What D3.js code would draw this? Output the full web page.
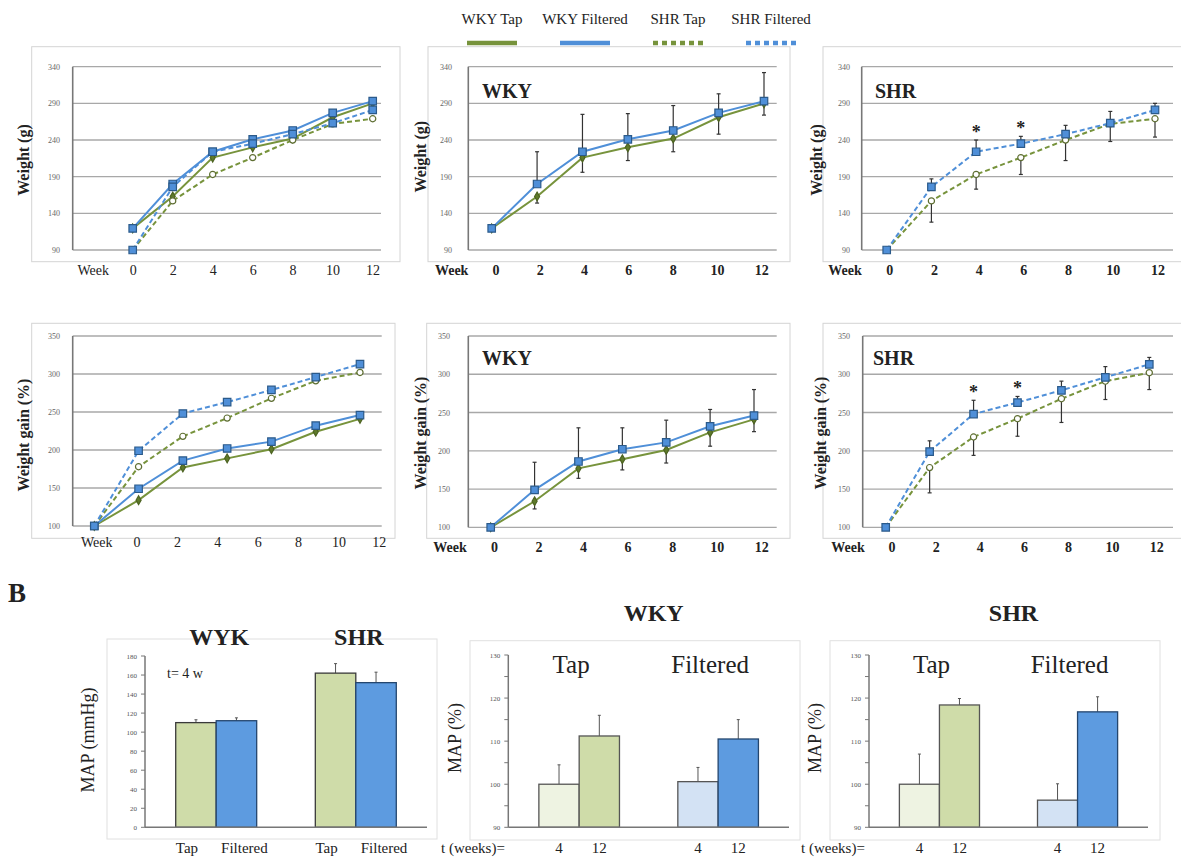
<!DOCTYPE html>
<html>
<head>
<meta charset="utf-8">
<script src="https://cdn.jsdelivr.net/npm/d3@7"></script>
<style>
  body { margin: 0; background: #fff; }
  svg { display: block; }
  text { font-family: "Liberation Serif", "Times New Roman", serif; fill: #222; }
</style>
</head>
<body>
<script>
// ---- data ----
const weeks = [0, 2, 4, 6, 8, 10, 12];
const weekCats = ["Week", "0", "2", "4", "6", "8", "10", "12"];
const weightTicks = [90, 140, 190, 240, 290, 340];
const gainTicks = [100, 150, 200, 250, 300, 350];
const legendNames = ["WKY Tap", "WKY Filtered", "SHR Tap", "SHR Filtered"];

// body weight (g)
const wkyTapWeight = [119.5, 163, 216, 230, 242, 271, 290];
const wkyFiltWeight = [119.5, 180, 224, 241, 253, 277, 293];
const shrTapWeight = [90, 157, 193, 216, 240, 262, 269];
const shrFiltWeight = [90, 176, 224, 235, 248, 263, 281];
const wkyTapWeightErr = [0, 9, 20, 18, 18, 23, 16];
const wkyFiltWeightErr = [0, 44, 51, 35, 34, 26, 39];
const shrTapWeightErr = [0, 29, 20, 23, 28, 24, 25];
const shrFiltWeightErr = [0, 11, 16, 10, 12, 16, 9];

// weight gain (%)
const wkyTapGain = [100, 134, 177, 189, 201, 224, 241];
const wkyFiltGain = [100, 149, 186, 202, 211, 232, 246];
const shrTapGain = [100, 178, 218, 242, 268, 291, 302];
const shrFiltGain = [100, 199, 248, 263, 279, 296, 313];
const wkyTapGainErr = [0, 10, 13, 14, 17, 18, 16];
const wkyFiltGainErr = [0, 36, 44, 28, 29, 22, 34];
const shrTapGainErr = [0, 33, 24, 23, 31, 24, 22];
const shrFiltGainErr = [0, 14, 18, 8, 12, 14, 9];

const starWeeks = [4, 6];

// MAP (mmHg) at 4 weeks
const mapGroups = ["WYK", "SHR"];
const mapTreatments = ["Tap", "Filtered"];
const mapTap = [110, 162];
const mapFilt = [112, 152];
const mapTapErr = [3, 10];
const mapFiltErr = [3, 11];
const mapTicks = [0, 20, 40, 60, 80, 100, 120, 140, 160, 180];

// MAP (%) at 4 and 12 weeks
const pctWeeks = ["4", "12"];
const pctTicks = [90, 100, 110, 120, 130];
const wkyPctTap = [100, 111.2];
const wkyPctFilt = [100.6, 110.5];
const wkyPctTapErr = [4.5, 4.8];
const wkyPctFiltErr = [3.3, 4.5];
const shrPctTap = [100, 118.4];
const shrPctFilt = [96.3, 116.8];
const shrPctTapErr = [7, 1.5];
const shrPctFiltErr = [3.8, 3.5];

// ---- styles ----
const GREEN = "#77933c";
const BLUE = "#4f8fd8";
const wkyTapStyle = {color: GREEN, dash: null, symbol: d3.symbolDiamond, size: 22, fill: "#5e7a2a", stroke: "#4d6322", dir: -1};
const wkyFiltStyle = {color: BLUE, dash: null, symbol: d3.symbolSquare, size: 56, fill: BLUE, stroke: "#2b5a8a", dir: 1};
const shrTapStyle = {color: GREEN, dash: "5,3", symbol: d3.symbolCircle, size: 30, fill: "#fff", stroke: "#5e6e32", dir: -1};
const shrFiltStyle = {color: BLUE, dash: "5,3", symbol: d3.symbolSquare, size: 56, fill: BLUE, stroke: "#2b5a8a", dir: 1};

const svg = d3.select("body").append("svg").attr("width", 1181).attr("height", 861);

// ---- legend ----
const legendStyles = [wkyTapStyle, wkyFiltStyle, shrTapStyle, shrFiltStyle];
const lx = d3.scalePoint().domain(legendNames).range([492, 771]);
legendNames.forEach((n, i) => {
    svg.append("text").attr("x", lx(n)).attr("y", 24).attr("text-anchor", "middle")
        .attr("font-size", 15).text(n);
    svg.append("line").attr("x1", lx(n) - 25).attr("x2", lx(n) + 25)
        .attr("y1", 43).attr("y2", 43)
        .attr("stroke", legendStyles[i].color).attr("stroke-width", 4.5)
        .attr("stroke-dasharray", legendStyles[i].dash ? "5,4" : null);
});

// ---- line panels ----
function linePanel(cfg) {
    const g = svg.append("g");
    const y = d3.scaleLinear().domain(d3.extent(cfg.ticks)).range(cfg.yRange);
    const x = d3.scaleLinear().domain([0, 12]).range(cfg.pts);
    const xl = d3.scalePoint().domain(weekCats).range(cfg.labs);

    g.append("rect").attr("x", cfg.box[0]).attr("y", cfg.box[1])
        .attr("width", cfg.box[2]).attr("height", cfg.box[3])
        .attr("fill", "none").attr("stroke", "#d4d4d4");

    g.selectAll(".grid").data(cfg.ticks).join("line")
        .attr("x1", cfg.axisX).attr("x2", cfg.right)
        .attr("y1", d => y(d)).attr("y2", d => y(d))
        .attr("stroke", "#a8a8a8").attr("stroke-width", 1.3);

    g.append("line").attr("x1", cfg.axisX).attr("x2", cfg.axisX)
        .attr("y1", y(cfg.ticks[0])).attr("y2", y(cfg.ticks[cfg.ticks.length - 1]))
        .attr("stroke", "#777").attr("stroke-width", 1.6);

    g.selectAll(".tick").data(cfg.ticks).join("text")
        .attr("x", cfg.tickX).attr("y", d => y(d) + 3)
        .attr("text-anchor", "end").attr("font-size", 8).style("fill", "#666")
        .text(d => d);

    g.selectAll(".xl").data(weekCats).join("text")
        .attr("x", d => xl(d)).attr("y", cfg.labY)
        .attr("text-anchor", "middle").attr("font-size", 14)
        .attr("font-weight", cfg.labBold ? "bold" : "normal")
        .text(d => d);

    const line = d3.line().x((d, i) => x(weeks[i])).y(d => y(d));
    cfg.series.forEach(s => {
        g.append("path").datum(s.vals).attr("d", line)
            .attr("fill", "none").attr("stroke", s.style.color).attr("stroke-width", 2)
            .attr("stroke-dasharray", s.style.dash);
    });

    cfg.series.filter(s => s.err).forEach(s => {
        const dir = s.style.dir;
        weeks.forEach((w, i) => {
            if (!s.err[i]) return;
            const y0 = y(s.vals[i]), y1 = y(s.vals[i] + dir * s.err[i]);
            g.append("line").attr("x1", x(w)).attr("x2", x(w)).attr("y1", y0).attr("y2", y1)
                .attr("stroke", "#333").attr("stroke-width", 1.2);
            g.append("line").attr("x1", x(w) - 2).attr("x2", x(w) + 2).attr("y1", y1).attr("y2", y1)
                .attr("stroke", "#333").attr("stroke-width", 1.2);
        });
    });

    cfg.series.forEach(s => {
        const sym = d3.symbol().type(s.style.symbol).size(s.style.size);
        g.selectAll(null).data(s.vals).join("path")
            .attr("transform", (d, i) => `translate(${x(weeks[i])},${y(d)})`)
            .attr("d", sym).attr("fill", s.style.fill)
            .attr("stroke", s.style.stroke).attr("stroke-width", 1.2);
    });

    if (cfg.stars) {
        const s = cfg.stars;
        starWeeks.forEach(w => {
            const i = weeks.indexOf(w);
            g.append("text").attr("x", x(w)).attr("y", y(s.vals[i] + s.err[i]) - 2)
                .attr("text-anchor", "middle").attr("font-size", 18).attr("font-weight", "bold")
                .text("*");
        });
    }

    if (cfg.title) {
        g.append("text").attr("x", cfg.title[1]).attr("y", cfg.title[2])
            .attr("font-size", 20).attr("font-weight", "bold").text(cfg.title[0]);
    }

    g.append("text")
        .attr("transform", `translate(${cfg.yLabel[1]},${cfg.yLabel[2]}) rotate(-90)`)
        .attr("text-anchor", "middle").attr("dominant-baseline", "central")
        .attr("font-size", 16).attr("font-weight", "bold").text(cfg.yLabel[0]);
}

linePanel({
    box: [31.7, 46.7, 368.3, 215], axisX: 72.7, right: 381,
    yRange: [250, 66.7], ticks: weightTicks, tickX: 60,
    pts: [132.7, 372.7], labs: [93.3, 373], labY: 275, labBold: false,
    yLabel: ["Weight (g)", 23.3, 160],
    series: [
        {vals: wkyTapWeight, style: wkyTapStyle},
        {vals: wkyFiltWeight, style: wkyFiltStyle},
        {vals: shrTapWeight, style: shrTapStyle},
        {vals: shrFiltWeight, style: shrFiltStyle}
    ]
});

linePanel({
    box: [428, 46.7, 362, 215], axisX: 468.3, right: 776.7,
    yRange: [250, 66.7], ticks: weightTicks, tickX: 452,
    pts: [491.7, 764], labs: [451.7, 761.7], labY: 275, labBold: true,
    title: ["WKY", 482, 98], yLabel: ["Weight (g)", 420, 156.7],
    series: [
        {vals: wkyTapWeight, err: wkyTapWeightErr, style: wkyTapStyle},
        {vals: wkyFiltWeight, err: wkyFiltWeightErr, style: wkyFiltStyle}
    ]
});

linePanel({
    box: [823, 46.7, 365, 215], axisX: 861.7, right: 1173,
    yRange: [250, 66.7], ticks: weightTicks, tickX: 850,
    pts: [886.7, 1155], labs: [845, 1158], labY: 275, labBold: true,
    title: ["SHR", 875, 98], yLabel: ["Weight (g)", 816.7, 160],
    stars: {vals: shrFiltWeight, err: shrFiltWeightErr},
    series: [
        {vals: shrTapWeight, err: shrTapWeightErr, style: shrTapStyle},
        {vals: shrFiltWeight, err: shrFiltWeightErr, style: shrFiltStyle}
    ]
});

linePanel({
    box: [31.7, 323.3, 363.3, 215], axisX: 72.7, right: 381.7,
    yRange: [526, 336], ticks: gainTicks, tickX: 60,
    pts: [94.3, 360], labs: [96.7, 379.3], labY: 547, labBold: false,
    yLabel: ["Weight gain (%)", 23.3, 435],
    series: [
        {vals: wkyTapGain, style: wkyTapStyle},
        {vals: wkyFiltGain, style: wkyFiltStyle},
        {vals: shrTapGain, style: shrTapStyle},
        {vals: shrFiltGain, style: shrFiltStyle}
    ]
});

linePanel({
    box: [426.7, 323.3, 363.3, 215], axisX: 468.3, right: 776.7,
    yRange: [527.3, 336], ticks: gainTicks, tickX: 450,
    pts: [490.7, 754], labs: [450, 761.7], labY: 552, labBold: true,
    title: ["WKY", 482, 365], yLabel: ["Weight gain (%)", 420, 433],
    series: [
        {vals: wkyTapGain, err: wkyTapGainErr, style: wkyTapStyle},
        {vals: wkyFiltGain, err: wkyFiltGainErr, style: wkyFiltStyle}
    ]
});

linePanel({
    box: [823, 323.3, 365, 215], axisX: 862.7, right: 1173,
    yRange: [527.3, 336], ticks: gainTicks, tickX: 850,
    pts: [885.7, 1149.3], labs: [848, 1156.7], labY: 552, labBold: true,
    title: ["SHR", 873, 365], yLabel: ["Weight gain (%)", 820, 433],
    stars: {vals: shrFiltGain, err: shrFiltGainErr},
    series: [
        {vals: shrTapGain, err: shrTapGainErr, style: shrTapStyle},
        {vals: shrFiltGain, err: shrFiltGainErr, style: shrFiltStyle}
    ]
});

// ---- B: bar panels ----
svg.append("text").attr("x", 8).attr("y", 602).attr("font-size", 27).attr("font-weight", "bold").text("B");

function barPanel(cfg) {
    const g = svg.append("g");
    const y = d3.scaleLinear().domain(d3.extent(cfg.ticks)).range(cfg.yRange);
    const x = d3.scaleBand().domain(cfg.groups).range([cfg.axisX, cfg.right])
        .paddingInner(0.42).paddingOuter(0.22);
    const xs = d3.scaleBand().domain(cfg.sub).range([0, x.bandwidth()]);

    g.append("rect").attr("x", cfg.box[0]).attr("y", cfg.box[1])
        .attr("width", cfg.box[2]).attr("height", cfg.box[3])
        .attr("fill", "none").attr("stroke", "#e0e0e0");

    g.selectAll(".tm").data(y.ticks(cfg.minorTicks)).join("line")
        .attr("x1", cfg.axisX - 4).attr("x2", cfg.axisX)
        .attr("y1", d => y(d)).attr("y2", d => y(d))
        .attr("stroke", "#777");
    g.selectAll(".tl").data(cfg.ticks).join("text")
        .attr("x", cfg.axisX - 8).attr("y", d => y(d) + 2.5)
        .attr("text-anchor", "end").attr("font-size", 7).style("fill", "#555")
        .text(d => d);

    cfg.groups.forEach((grp, gi) => {
        cfg.sub.forEach((sb, si) => {
            const v = cfg.values[gi][si], e = cfg.errs[gi][si];
            const bx = x(grp) + xs(sb);
            const cx = bx + xs.bandwidth() / 2;
            g.append("line").attr("x1", cx).attr("x2", cx)
                .attr("y1", y(v)).attr("y2", y(v + e))
                .attr("stroke", "#555").attr("stroke-width", 1);
            g.append("line").attr("x1", cx - 1.5).attr("x2", cx + 1.5)
                .attr("y1", y(v + e)).attr("y2", y(v + e))
                .attr("stroke", "#555").attr("stroke-width", 1);
            g.append("rect").attr("x", bx).attr("y", y(v))
                .attr("width", xs.bandwidth()).attr("height", y(cfg.ticks[0]) - y(v))
                .attr("fill", cfg.fills[gi][si]).attr("stroke", cfg.strokes[gi][si])
                .attr("stroke-width", 1.3);
        });
    });

    g.append("line").attr("x1", cfg.axisX).attr("x2", cfg.axisX)
        .attr("y1", y(cfg.ticks[0])).attr("y2", y(cfg.ticks[cfg.ticks.length - 1]))
        .attr("stroke", "#777").attr("stroke-width", 1.5);
    g.append("line").attr("x1", cfg.axisX).attr("x2", cfg.right)
        .attr("y1", y(cfg.ticks[0])).attr("y2", y(cfg.ticks[0]))
        .attr("stroke", "#777").attr("stroke-width", 1.5);

    // group titles
    g.selectAll(".gt").data(cfg.groups).join("text")
        .attr("x", d => x(d) + x.bandwidth() / 2 + cfg.groupShift)
        .attr("y", cfg.groupY).attr("text-anchor", "middle")
        .attr("font-size", cfg.groupSize).attr("font-weight", cfg.groupBold ? "bold" : "normal")
        .text(d => d);

    // labels under bars
    cfg.groups.forEach(grp => {
        cfg.sub.forEach((sb, si) => {
            g.append("text")
                .attr("x", x(grp) + xs(sb) + xs.bandwidth() / 2 + cfg.subShift[si])
                .attr("y", 853).attr("text-anchor", "middle").attr("font-size", 15)
                .text(sb);
        });
    });

    g.append("text")
        .attr("transform", `translate(${cfg.yLabel[1]},${cfg.yLabel[2]}) rotate(-90)`)
        .attr("text-anchor", "middle").attr("dominant-baseline", "central")
        .attr("font-size", 18).text(cfg.yLabel[0]);

    if (cfg.title) {
        g.append("text").attr("x", (cfg.axisX + cfg.right) / 2 + 5).attr("y", 621)
            .attr("text-anchor", "middle").attr("font-size", 24).attr("font-weight", "bold")
            .text(cfg.title);
        g.append("text").attr("x", cfg.box[0] - 29).attr("y", 853)
            .attr("font-size", 15).text("t (weeks)=");
    }
}

barPanel({
    box: [107, 639, 330, 200], axisX: 145, right: 427,
    yRange: [827.3, 656], ticks: mapTicks, minorTicks: 9,
    groups: mapGroups, sub: mapTreatments,
    values: mapGroups.map((d, i) => [mapTap[i], mapFilt[i]]),
    errs: mapGroups.map((d, i) => [mapTapErr[i], mapFiltErr[i]]),
    fills: [["#cfdca9", "#5d9be0"], ["#cfdca9", "#5d9be0"]],
    strokes: [["#3a3a3a", "#24466e"], ["#3a3a3a", "#24466e"]],
    groupY: 645, groupSize: 24, groupBold: true, groupShift: 3,
    subShift: [-9, 8],
    yLabel: ["MAP (mmHg)", 88, 740]
});
svg.append("text").attr("x", 167).attr("y", 678).attr("font-size", 14).text("t= 4 w");

barPanel({
    box: [470, 640.7, 330, 199.3], axisX: 508.3, right: 789,
    yRange: [827.3, 655], ticks: pctTicks, minorTicks: 8,
    groups: ["Tap", "Filtered"], sub: pctWeeks,
    values: [wkyPctTap, wkyPctFilt],
    errs: [wkyPctTapErr, wkyPctFiltErr],
    fills: [["#eef3e2", "#cfdca9"], ["#d3e2f4", "#5d9be0"]],
    strokes: [["#555", "#555"], ["#555", "#24466e"]],
    groupY: 673, groupSize: 25, groupBold: false, groupShift: -8,
    subShift: [0, 0],
    yLabel: ["MAP (%)", 455, 738], title: "WKY"
});

barPanel({
    box: [830, 640.7, 330, 199.3], axisX: 869, right: 1148,
    yRange: [827.3, 655], ticks: pctTicks, minorTicks: 8,
    groups: ["Tap", "Filtered"], sub: pctWeeks,
    values: [shrPctTap, shrPctFilt],
    errs: [shrPctTapErr, shrPctFiltErr],
    fills: [["#eef3e2", "#cfdca9"], ["#d3e2f4", "#5d9be0"]],
    strokes: [["#555", "#555"], ["#555", "#24466e"]],
    groupY: 673, groupSize: 25, groupBold: false, groupShift: -8,
    subShift: [0, 0],
    yLabel: ["MAP (%)", 815, 738], title: "SHR"
});
</script>
</body>
</html>
